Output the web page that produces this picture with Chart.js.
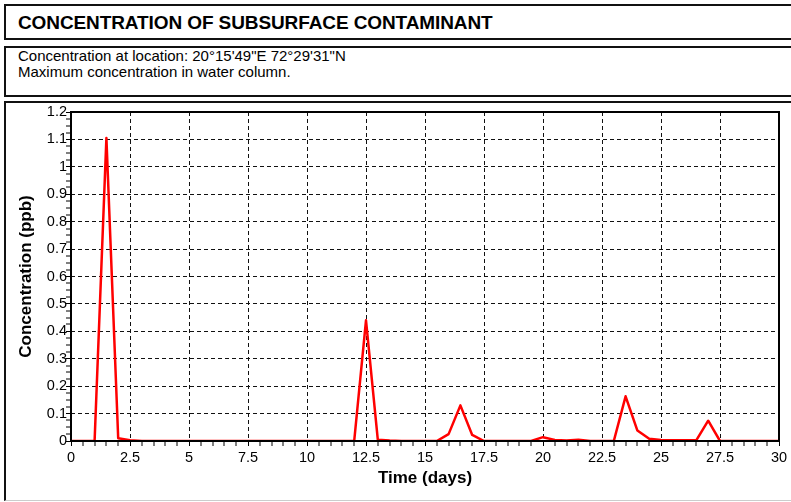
<!DOCTYPE html>
<html>
<head>
<meta charset="utf-8">
<script src="https://cdn.jsdelivr.net/npm/chart.js@4/dist/chart.umd.min.js"></script>
<style>
  html, body { margin: 0; padding: 0; background: #fff; }
  body { width: 791px; height: 502px; position: relative; overflow: hidden; font-family: "Liberation Sans", Arial, sans-serif; }
  .box { position: absolute; box-sizing: border-box; border: 2px solid #111; border-right: none; background: #fff; }
  #b1 { left: 4px; top: 4px; width: 800px; height: 36px; }
  #b2 { left: 4px; top: 46px; width: 800px; height: 51px; }
  #b3 { left: 4px; top: 101px; width: 800px; height: 400px; border-bottom: 1px solid #ccc; }
  #title { position: absolute; left: 18px; top: 13px; font-size: 19px; line-height: 19px; font-weight: bold; letter-spacing: -0.1px; color: #000; white-space: nowrap; }
  #sub { position: absolute; left: 18px; top: 47.5px; font-size: 15px; line-height: 16px; color: #000; white-space: nowrap; }
  #c { position: absolute; left: 0; top: 0; }
</style>
</head>
<body>
<div class="box" id="b1"></div>
<div class="box" id="b2"></div>
<div class="box" id="b3"></div>
<div id="title">CONCENTRATION OF SUBSURFACE CONTAMINANT</div>
<div id="sub">Concentration at location: 20°15'49"E 72°29'31"N<br>Maximum concentration in water column.</div>
<canvas id="c" width="791" height="502"></canvas>
<script>
// ---- data ----
const chartTitle = "CONCENTRATION OF SUBSURFACE CONTAMINANT";
const xAxisTitle = "Time (days)";
const yAxisTitle = "Concentration (ppb)";
const days = [0,0.5,1,1.5,2,2.5,3,3.5,4,4.5,5,5.5,6,6.5,7,7.5,8,8.5,9,9.5,10,10.5,11,11.5,12,12.5,13,13.5,14,14.5,15,15.5,16,16.5,17,17.5,18,18.5,19,19.5,20,20.5,21,21.5,22,22.5,23,23.5,24,24.5,25,25.5,26,26.5,27,27.5,28,28.5,29,29.5,30];
const concentration = [0,0,0,1.105,0.01,0.003,0,0,0,0,0,0,0,0,0,0,0,0,0,0,0,0,0,0,0,0.44,0.005,0.002,0,0,0,0,0.025,0.13,0.022,0,0,0,0,0,0.014,0.004,0.002,0.005,0,0,0,0.163,0.038,0.008,0.004,0.003,0.003,0.003,0.074,0,0,0,0,0,0];
const xMajorTicks = [0,2.5,5,7.5,10,12.5,15,17.5,20,22.5,25,27.5,30];
const xMinorStep = 0.5;
const yMajorTicks = [0,0.1,0.2,0.3,0.4,0.5,0.6,0.7,0.8,0.9,1,1.1,1.2];
const yMinorStep = 0.025;

const xMin = 0, xMax = 30, yMin = 0, yMax = 1.2;
function isMajor(v, majors) { return majors.some(m => Math.abs(m - v) < 1e-6); }
function buildTicks(min, max, step) {
  const out = [];
  const n = Math.round((max - min) / step);
  for (let i = 0; i <= n; i++) out.push(Math.round((min + i * step) * 1000) / 1000);
  return out;
}
const xTickVals = buildTicks(xMin, xMax, xMinorStep);
const yTickVals = buildTicks(yMin, yMax, yMinorStep);

const frame = {
  id: 'frame',
  afterDatasetsDraw(chart) {
    const {ctx, chartArea: a} = chart;
    ctx.save();
    ctx.strokeStyle = '#000';
    ctx.lineWidth = 2;
    ctx.strokeRect(a.left, a.top, a.right - a.left, a.bottom - a.top);
    ctx.restore();
  }
};

new Chart(document.getElementById('c'), {
  type: 'line',
  data: {
    datasets: [{
      data: days.map((d, i) => ({x: d, y: concentration[i]})),
      borderColor: '#ff0000',
      borderWidth: 2.5,
      pointRadius: 0,
      tension: 0,
      borderJoinStyle: 'round',
      fill: false
    }]
  },
  options: {
    responsive: false,
    animation: false,
    devicePixelRatio: 1,
    layout: { padding: { left: 0, top: 112, right: 12, bottom: 0 } },
    plugins: { legend: { display: false }, tooltip: { enabled: false }, title: { display: false } },
    scales: {
      x: {
        type: 'linear', min: xMin, max: xMax,
        afterBuildTicks: s => { s.ticks = xTickVals.map(v => ({value: v})); },
        afterFit: s => { s.height = 61; },
        border: { display: false, dash: [4, 3] },
        grid: {
          color: '#111',
          lineWidth: c => (c.tick && isMajor(c.tick.value, xMajorTicks)) ? 1 : 0,
          tickColor: '#000', tickWidth: 1, tickLength: 5, drawTicks: true
        },
        ticks: {
          autoSkip: false, maxRotation: 0, minRotation: 0, padding: 3,
          color: '#000',
          font: { family: '"Liberation Sans", Arial, sans-serif', size: 14.5 },
          callback: v => isMajor(v, xMajorTicks) ? String(v) : ''
        },
        title: {
          display: true, text: xAxisTitle, color: '#000',
          font: { family: '"Liberation Sans", Arial, sans-serif', size: 17, weight: 'bold' },
          padding: { top: 0, bottom: 13 }
        }
      },
      y: {
        type: 'linear', min: yMin, max: yMax,
        afterBuildTicks: s => { s.ticks = yTickVals.map(v => ({value: v})); },
        afterFit: s => { s.width = 71; },
        border: { display: false, dash: [4, 3] },
        grid: {
          color: '#111',
          lineWidth: c => (c.tick && isMajor(c.tick.value, yMajorTicks)) ? 1 : 0,
          tickColor: '#000', tickWidth: 1, tickLength: 5, drawTicks: true
        },
        ticks: {
          autoSkip: false, padding: -1,
          color: '#000',
          font: { family: '"Liberation Sans", Arial, sans-serif', size: 14.5 },
          callback: v => isMajor(v, yMajorTicks) ? String(Math.round(v * 10) / 10) : ''
        },
        title: {
          display: true, text: yAxisTitle, color: '#000',
          font: { family: '"Liberation Sans", Arial, sans-serif', size: 17, weight: 'bold' },
          padding: { top: 16, bottom: 0 }
        }
      }
    }
  },
  plugins: [frame]
});
</script>
</body>
</html>
